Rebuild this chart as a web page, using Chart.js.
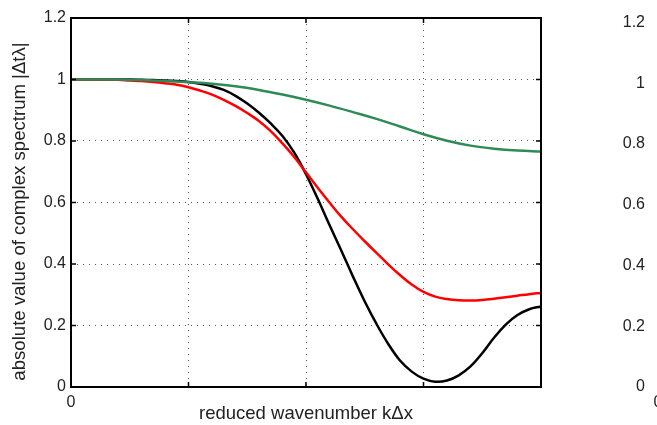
<!DOCTYPE html>
<html>
<head>
<meta charset="utf-8">
<script src="https://cdn.jsdelivr.net/npm/chart.js@4.4.1/dist/chart.umd.min.js"></script>
<style>
  html, body { margin: 0; padding: 0; background: #fff; }
  #wrap { position: relative; width: 657px; height: 425px; overflow: hidden; background: #fff; }
  #c1 { position: absolute; left: 0; top: 0; }
  #c2 { position: absolute; left: 560px; top: 0; }
</style>
</head>
<body>
<div id="wrap">
  <canvas id="c1" width="657" height="425"></canvas>
  <canvas id="c2" width="400" height="425"></canvas>
</div>
<script>
// ---- data (x = reduced wavenumber, normalised 0..1 of the plotted range) ----
const xFine = [0, 0.025, 0.05, 0.075, 0.1, 0.125, 0.15, 0.175, 0.2, 0.225,
               0.25, 0.275, 0.3, 0.325, 0.35, 0.375, 0.4, 0.425, 0.45, 0.475,
               0.5, 0.525, 0.55, 0.575, 0.6, 0.625, 0.65, 0.675, 0.7, 0.725,
               0.75, 0.775, 0.8, 0.825, 0.85, 0.875, 0.9, 0.925, 0.95, 0.975, 1.0];
const blackValues = [1.000, 1.000, 1.000, 1.000, 1.000, 1.000, 0.999, 0.998, 0.997, 0.995,
                     0.992, 0.986, 0.978, 0.966, 0.947, 0.922, 0.892, 0.857, 0.816, 0.762,
                     0.692, 0.612, 0.527, 0.444, 0.359, 0.278, 0.205, 0.140, 0.086, 0.050,
                     0.027, 0.017, 0.021, 0.038, 0.067, 0.110, 0.160, 0.203, 0.234, 0.253, 0.262];
const redValues   = [1.000, 1.000, 1.000, 1.000, 0.999, 0.997, 0.995, 0.992, 0.988, 0.983,
                     0.975, 0.964, 0.951, 0.934, 0.914, 0.891, 0.865, 0.832, 0.792, 0.748,
                     0.698, 0.648, 0.600, 0.554, 0.513, 0.474, 0.436, 0.399, 0.364, 0.333,
                     0.309, 0.294, 0.286, 0.282, 0.281, 0.283, 0.287, 0.292, 0.297, 0.302, 0.306];
const xCoarse = [0, 0.05, 0.1, 0.15, 0.2, 0.25, 0.3, 0.35, 0.4, 0.45, 0.5,
                 0.55, 0.6, 0.65, 0.7, 0.75, 0.8, 0.85, 0.9, 0.95, 1.0];
const greenValues = [1.000, 1.000, 1.000, 0.998, 0.995, 0.991, 0.986, 0.978, 0.966, 0.951, 0.934,
                     0.915, 0.894, 0.872, 0.847, 0.822, 0.801, 0.785, 0.775, 0.769, 0.766];
const xTicks = [0, 0.25, 0.5, 0.75, 1];
const xTickLabels = ['0', '', '', '', ''];
const yTicks = [0, 0.2, 0.4, 0.6, 0.8, 1, 1.2];
const yTickLabels = ['0', '0.2', '0.4', '0.6', '0.8', '1', '1.2'];
const xTitle = 'reduced wavenumber k\u0394x';
const yTitle = 'absolute value of complex spectrum |\u0394t\u03BB|';

const FONT = 'Liberation Sans, Arial, Helvetica, sans-serif';

function pts(xs, ys) { return xs.map((x, i) => ({x: x, y: ys[i]})); }

// frame + inward tick marks
const framePlugin = {
  id: 'frame',
  afterDraw(chart) {
    const {ctx, chartArea: a, scales} = chart;
    ctx.save();
    ctx.strokeStyle = '#000';
    ctx.lineWidth = 1.5;
    const L = 5;
    ctx.beginPath();
    scales.x.ticks.forEach(t => {
      const px = scales.x.getPixelForValue(t.value);
      ctx.moveTo(px, a.bottom); ctx.lineTo(px, a.bottom - L);
      ctx.moveTo(px, a.top); ctx.lineTo(px, a.top + L);
    });
    scales.y.ticks.forEach(t => {
      const py = scales.y.getPixelForValue(t.value);
      ctx.moveTo(a.left, py); ctx.lineTo(a.left + L, py);
      ctx.moveTo(a.right, py); ctx.lineTo(a.right - L, py);
    });
    ctx.stroke();
    ctx.lineWidth = 2;
    ctx.strokeRect(a.left, a.top, a.right - a.left, a.bottom - a.top);
    ctx.restore();
  }
};

// y-axis title, drawn a little below the plot centre as in the original
const yTitlePlugin = {
  id: 'ytitle',
  afterDraw(chart) {
    const {ctx, chartArea: a} = chart;
    ctx.save();
    ctx.translate(20, (a.top + a.bottom) / 2 + 9);
    ctx.rotate(-Math.PI / 2);
    ctx.font = '18.6px ' + FONT;
    ctx.fillStyle = '#222';
    ctx.textAlign = 'center';
    ctx.textBaseline = 'middle';
    ctx.fillText(yTitle, 0, 0);
    ctx.restore();
  }
};

function makeScales(yWidth, tickPad, showTitles) {
  return {
    x: {
      type: 'linear', min: 0, max: 1,
      afterBuildTicks: s => { s.ticks = xTicks.map(v => ({value: v})); },
      afterFit: s => { s.height = 38; },
      ticks: {
        padding: 6, maxRotation: 0, autoSkip: false,
        color: '#222', font: {family: FONT, size: 16},
        callback: (v, i) => xTickLabels[i]
      },
      grid: { color: '#555', lineWidth: 1, drawTicks: false },
      border: { display: false, dash: [1, 5] },
      title: { display: showTitles, text: xTitle, color: '#222',
               font: {family: FONT, size: 18.5}, padding: {top: 0, bottom: 0} }
    },
    y: {
      type: 'linear', min: 0, max: 1.2,
      afterBuildTicks: s => { s.ticks = yTicks.map(v => ({value: v})); },
      afterFit: s => { s.width = yWidth; },
      ticks: {
        padding: tickPad, autoSkip: false,
        color: '#222', font: {family: FONT, size: 16},
        callback: (v, i) => yTickLabels[i]
      },
      grid: { color: '#555', lineWidth: 1, drawTicks: false },
      border: { display: false, dash: [1, 5] },
      title: { display: false }
    }
  };
}

const lineStyle = { pointRadius: 0, fill: false, borderWidth: 2.5, tension: 0.4 };

new Chart(document.getElementById('c1'), {
  type: 'line',
  data: {
    datasets: [
      Object.assign({ label: 'green', data: pts(xCoarse, greenValues), borderColor: '#2e8b57' }, lineStyle),
      Object.assign({ label: 'red', data: pts(xFine, redValues), borderColor: '#ff0000' }, lineStyle),
      Object.assign({ label: 'black', data: pts(xFine, blackValues), borderColor: '#000000' }, lineStyle)
    ]
  },
  options: {
    responsive: false, animation: false, devicePixelRatio: 1,
    layout: { padding: { top: 18, right: 116, bottom: 0, left: 0 } },
    plugins: { legend: { display: false }, tooltip: { enabled: false } },
    scales: makeScales(71, 5, true)
  },
  plugins: [framePlugin, yTitlePlugin]
});

// neighbouring panel (only its axis labels fall inside the picture)
new Chart(document.getElementById('c2'), {
  type: 'line',
  data: { datasets: [] },
  options: {
    responsive: false, animation: false, devicePixelRatio: 1,
    layout: { padding: { top: 18, right: 0, bottom: 0, left: 0 } },
    plugins: { legend: { display: false }, tooltip: { enabled: false } },
    scales: makeScales(98, 13, false)
  },
  plugins: [framePlugin]
});
</script>
</body>
</html>
